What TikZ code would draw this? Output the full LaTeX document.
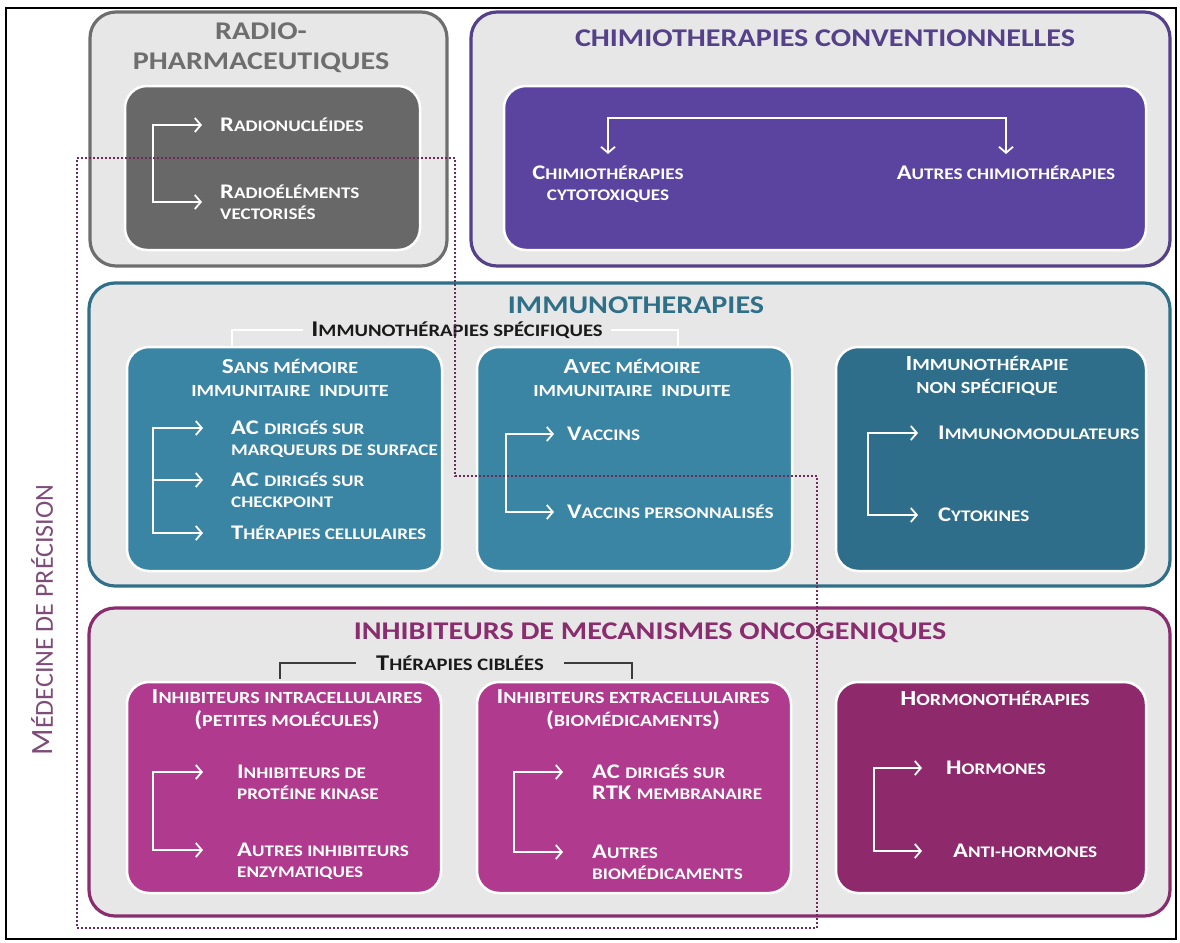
\documentclass[tikz,border=0pt]{standalone}
\usepackage{fontspec}
\setmainfont{Carlito}[FakeStretch=1.18]
\newfontfamily\sidefont{Carlito}
\usetikzlibrary{arrows.meta}
\definecolor{panelbg}{HTML}{E7E7E8}
\definecolor{radio}{HTML}{6E6E6E}
\definecolor{radiofill}{HTML}{686868}
\definecolor{chimio}{HTML}{55408A}
\definecolor{chimiofill}{HTML}{5B43A0}
\definecolor{immuno}{HTML}{2F6F88}
\definecolor{immunofill}{HTML}{3A84A4}
\definecolor{immunodark}{HTML}{2E6E8B}
\definecolor{inhib}{HTML}{8A2D6E}
\definecolor{inhibfill}{HTML}{B03A8E}
\definecolor{inhibdark}{HTML}{8E2A6C}
\definecolor{precis}{HTML}{6E2A58}
\definecolor{sideink}{HTML}{7E4C78}
\definecolor{ink}{HTML}{1A1A1A}
% fake small caps: first letter typed large, the rest through \lo
\newcommand{\losz}{15.5}
\newcommand{\lo}[1]{{\fontsize{\losz}{\losz}\selectfont\MakeUppercase{#1}}}
\newcommand{\itemfont}{\bfseries\fontsize{20.8}{21}\selectfont\renewcommand{\losz}{16.2}}
\newcommand{\subfont}{\bfseries\fontsize{21.5}{23}\selectfont\renewcommand{\losz}{17}}
\newcommand{\tagfont}{\bfseries\fontsize{22.5}{24}\selectfont\renewcommand{\losz}{17.5}}
\newcommand{\sidesize}{\sidefont\fontsize{31}{32}\selectfont\renewcommand{\losz}{26}}
\tikzset{
  panel/.style={rectangle, rounded corners=26pt, line width=3.2pt, fill=panelbg,
                inner sep=0pt},
  inbox/.style={rectangle, rounded corners=22pt, draw=white, line width=2.5pt,
                inner sep=0pt},
  head/.style={font=\bfseries\fontsize{25.5}{30}\selectfont, align=center,
               inner sep=0pt},
  sub/.style={font=\subfont, text=white, align=center, inner sep=0pt},
  item/.style={font=\itemfont, text=white, align=left, inner sep=0pt},
  tag/.style={font=\tagfont, text=ink, inner sep=8pt},
  wire/.style={draw=white, line width=1.8pt},
  warrow/.style={wire, -{Straight Barb[length=6pt, width=14pt]}},
  bracket/.style={line width=1.8pt, shorten <=#1},
  bracket/.default=0pt,
  precision/.style={draw=precis, line width=2.6pt, dash pattern=on 2pt off 2pt},
}

\begin{document}
\begin{tikzpicture}[x=1pt, y=-1pt]
  \useasboundingbox (0,0) rectangle (1180,942);
  \draw[line width=1.6pt] (6,8) rectangle (1176,939);

  % the four families
  \node[panel, draw=radio, minimum width=357pt, minimum height=254pt] (radio) at (268.5,139) {};
  \node[panel, draw=chimio, minimum width=699pt, minimum height=254pt] (chimio) at (820.5,139) {};
  \node[panel, draw=immuno, minimum width=1081pt, minimum height=303pt] (immuno) at (629.5,434.5) {};
  \node[panel, draw=inhib, minimum width=1081pt, minimum height=308pt] (inhib) at (629.5,762) {};

  \node[inbox, fill=radiofill, minimum width=295pt, minimum height=164pt] (radiobox) at (272.5,168) {};
  \node[inbox, fill=chimiofill, minimum width=642pt, minimum height=164pt] (chimiobox) at (825,168) {};
  \node[inbox, fill=immunofill, minimum width=315pt, minimum height=224pt] (sans) at (284.5,459) {};
  \node[inbox, fill=immunofill, minimum width=315pt, minimum height=224pt] (avec) at (634.5,459) {};
  \node[inbox, fill=immunodark, minimum width=310pt, minimum height=224pt] (nonspec) at (991,459) {};
  \node[inbox, fill=inhibfill, minimum width=314pt, minimum height=211pt] (intra) at (284,787.5) {};
  \node[inbox, fill=inhibfill, minimum width=314pt, minimum height=211pt] (extra) at (634,787.5) {};
  \node[inbox, fill=inhibdark, minimum width=310pt, minimum height=211pt] (hormono) at (991,787.5) {};

  \node[head, text=radio] (radiohead) at (261,48) {RADIO-\\PHARMACEUTIQUES};
  \node[head, text=chimio] (chimiohead) at (825,38) {CHIMIOTHERAPIES CONVENTIONNELLES};
  \node[head, text=immuno] (immunohead) at (636,305) {IMMUNOTHERAPIES};
  \node[head, text=inhib] (inhibhead) at (650,633) {INHIBITEURS DE MECANISMES ONCOGENIQUES};

  % radiopharmaceutiques
  \coordinate (radiobus) at (153,162);
  \node[item, anchor=west] (radionucl) at (220,125) {R\lo{adionucléides}};
  \node[item, anchor=west] (radiovect) at (220,202) {R\lo{adioéléments}\\\lo{vectorisés}};
  \draw[warrow, shorten >=18pt] (radiobus) |- (radionucl);
  \draw[warrow, shorten >=18pt] (radiobus) |- (radiovect);

  % chimiotherapies
  \coordinate (chimiobus) at (806,118);
  \node[item, anchor=north, align=center] (cyto) at (608,166) {C\lo{himiothérapies}\\\lo{cytotoxiques}};
  \node[item, anchor=north] (autreschim) at (1006,166) {A\lo{utres chimiothérapies}};
  \draw[warrow, shorten >=12pt] (chimiobus) -| (cyto);
  \draw[warrow, shorten >=12pt] (chimiobus) -| (autreschim);

  % immunotherapies
  \node[tag] (spec) at (457,330) {I\lo{mmunothérapies spécifiques}};
  \coordinate (specL) at (232,347);
  \coordinate (specR) at (678,347);
  \draw[bracket, draw=white] (spec) -| (specL);
  \draw[bracket, draw=white] (spec) -| (specR);

  \node[sub] (sanshead) at (290,378) {S\lo{ans mémoire}\\\lo{immunitaire~ induite}};
  \node[sub] (avechead) at (632,378) {A\lo{vec mémoire}\\\lo{immunitaire~ induite}};
  \node[sub] (nonspechead) at (987,376) {I\lo{mmunothérapie}\\\lo{non spécifique}};

  \coordinate (sansbus) at (153,480);
  \node[item, anchor=north west] (acsurf) at (231,421) {AC \lo{dirigés sur}\\\lo{marqueurs de surface}};
  \node[item, anchor=north west] (accheck) at (231,473) {AC \lo{dirigés sur}\\\lo{checkpoint}};
  \node[item, anchor=west] (cellul) at (231,533) {T\lo{hérapies cellulaires}};
  \draw[warrow, shorten >=28pt] (sansbus) |- ([yshift=-7pt]acsurf.north west);
  \draw[warrow, shorten >=28pt] (sansbus) |- ([yshift=-7pt]accheck.north west);
  \draw[warrow, shorten >=28pt] (sansbus) |- (cellul);

  \coordinate (avecbus) at (506,473);
  \node[item, anchor=west] (vaccins) at (567,434) {V\lo{accins}};
  \node[item, anchor=west] (vaccperso) at (567,512) {V\lo{accins personnalisés}};
  \draw[warrow, shorten >=13pt] (avecbus) |- (vaccins);
  \draw[warrow, shorten >=13pt] (avecbus) |- (vaccperso);

  \coordinate (nonspecbus) at (868,474);
  \node[item, anchor=west] (immunomod) at (938,433) {I\lo{mmunomodulateurs}};
  \node[item, anchor=west] (cytokines) at (938,515) {C\lo{ytokines}};
  \draw[warrow, shorten >=20pt] (nonspecbus) |- (immunomod);
  \draw[warrow, shorten >=20pt] (nonspecbus) |- (cytokines);

  % inhibiteurs
  \node[tag] (ciblees) at (460,663) {T\lo{hérapies ciblées}};
  \coordinate (ciblL) at (280,679);
  \coordinate (ciblR) at (632,679);
  \draw[bracket=12pt, draw=ink!85] (ciblees) -| (ciblL);
  \draw[bracket=12pt, draw=ink!85] (ciblees) -| (ciblR);

  \node[sub] (intrahead) at (287,710) {I\lo{nhibiteurs intracellulaires}\\(\lo{petites molécules})};
  \node[sub] (extrahead) at (633,710) {I\lo{nhibiteurs extracellulaires}\\(\lo{biomédicaments})};
  \node[sub] (hormonohead) at (995,698) {H\lo{ormonothérapies}};

  \coordinate (intrabus) at (153,811);
  \node[item, anchor=north west] (kinase) at (237,765) {I\lo{nhibiteurs de}\\\lo{protéine kinase}};
  \node[item, anchor=north west] (enzym) at (237,843) {A\lo{utres inhibiteurs}\\\lo{enzymatiques}};
  \draw[warrow, shorten >=34pt] (intrabus) |- ([yshift=-7pt]kinase.north west);
  \draw[warrow, shorten >=34pt] (intrabus) |- ([yshift=-7pt]enzym.north west);

  \coordinate (extrabus) at (514,812);
  \node[item, anchor=north west] (rtk) at (592,765) {AC \lo{dirigés sur}\\RTK \lo{membranaire}};
  \node[item, anchor=north west] (biomed) at (592,845) {A\lo{utres}\\\lo{biomédicaments}};
  \draw[warrow, shorten >=29pt] (extrabus) |- ([yshift=-7pt]rtk.north west);
  \draw[warrow, shorten >=29pt] (extrabus) |- ([yshift=-7pt]biomed.north west);

  \coordinate (hormonobus) at (874,808);
  \node[item, anchor=west] (hormones) at (946,768) {H\lo{ormones}};
  \node[item, anchor=west] (antihorm) at (953,851) {A\lo{nti-hormones}};
  \draw[warrow, shorten >=24pt] (hormonobus) |- (hormones);
  \draw[warrow, shorten >=31pt] (hormonobus) |- (antihorm);

  % precision medicine
  \node[font=\sidesize, text=sideink, rotate=90] (medecine) at (42,620) {M\lo{édecine de précision}};
  \draw[precision] (77,158) -- (455,158) -- (455,476) -- (817,476) -- (817,928) -- (77,928) -- cycle;
\end{tikzpicture}
\end{document}
